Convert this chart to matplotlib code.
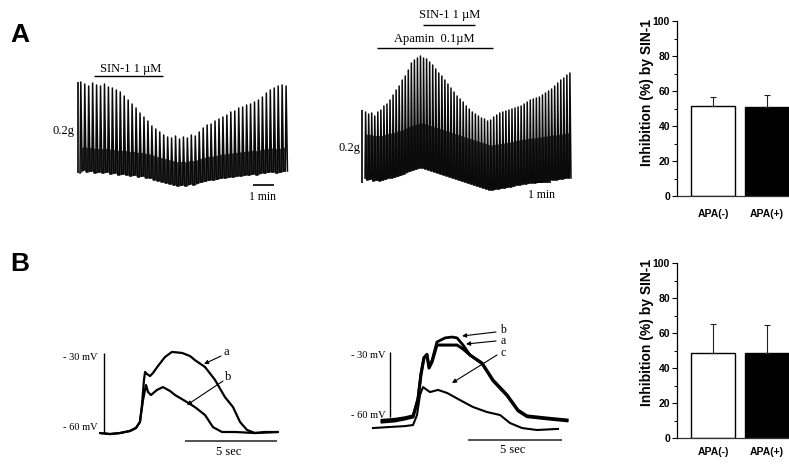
import numpy as np
import matplotlib.pyplot as plt
from matplotlib.ticker import MultipleLocator

W, H = 789, 468

# ---- panel A: isometric tension, one value per contraction (mg) ----
a1_beat_min = 0.188
a1_tops = [236, 232, 228, 234, 230, 228, 232, 226, 224, 220, 216, 208, 200, 192, 184, 174,
           166, 158, 148, 142, 136, 130, 126, 124, 128, 122, 126, 124, 130, 128, 136, 144,
           150, 152, 158, 162, 166, 170, 176, 178, 184, 186, 190, 192, 196, 200, 206, 214,
           220, 224, 228, 230, 228]
a1_bots = [54, 60, 56, 58, 54, 56, 54, 56, 52, 54, 50, 52, 50, 48, 50, 46, 48, 44, 44,
           40, 38, 36, 34, 32, 30, 28, 30, 28, 32, 30, 34, 36, 38, 40, 40, 42, 44,
           44, 46, 46, 48, 48, 50, 50, 52, 50, 54, 54, 56, 56, 54, 56, 58]

a2_beat_min = 0.1694
a2_tops = [176, 172, 174, 168, 176, 180, 188, 192, 200, 210, 220, 228, 240, 248, 260, 274,
           280, 284, 288, 284, 282, 276, 270, 262, 254, 248, 240, 232, 224, 216, 208, 202,
           196, 188, 182, 176, 172, 168, 164, 162, 158, 160, 166, 170, 174, 176, 178, 180,
           182, 184, 186, 188, 192, 196, 200, 202, 204, 206, 210, 214, 218, 222, 228, 234,
           240, 244, 250, 254]
a2_bots = [44, 40, 42, 38, 40, 38, 40, 42, 44, 44, 46, 48, 50, 52, 56, 58,
           60, 62, 64, 64, 62, 60, 58, 56, 54, 52, 50, 48, 46, 44, 42, 40,
           38, 36, 34, 32, 30, 28, 26, 24, 22, 20, 20, 22, 22, 24, 24, 26,
           26, 28, 30, 30, 32, 32, 34, 34, 34, 36, 36, 38, 38, 40, 40, 40,
           42, 42, 44, 44]

# ---- panel B: membrane potential (s, mV) ----
b1_a_t = [0, 0.54, 1.09, 1.63, 1.96, 2.17, 2.28, 2.39, 2.45, 2.55, 2.72, 2.88, 3.15, 3.53,
          3.91, 4.46, 4.89, 5.16, 5.71, 6.25, 6.79, 7.23, 7.61, 7.99, 8.42, 8.97, 9.67]
b1_a_v = [-60.4, -60.8, -60.4, -59.6, -58.4, -56.1, -49.5, -39.7, -36.6, -37.4, -38.2, -37.0,
          -34.3, -30.8, -28.8, -29.2, -30.4, -32.0, -34.7, -39.7, -46.4, -50.3, -56.1, -59.2,
          -60.4, -60.0, -60.0]
b1_b_t = [0, 0.54, 1.09, 1.63, 1.96, 2.17, 2.34, 2.50, 2.61, 2.77, 3.10, 3.42, 3.80, 4.08,
          4.62, 5.16, 5.71, 6.14, 6.63, 7.34, 8.42, 9.67]
b1_b_v = [-60.4, -60.8, -60.4, -59.6, -58.4, -56.1, -47.5, -41.7, -44.4, -45.6, -43.6, -42.5,
          -44.0, -45.6, -47.9, -50.3, -53.4, -58.1, -60.0, -60.0, -60.4, -60.0]

b2_a_t = [0.48, 1.17, 1.70, 2.13, 2.39, 2.55, 2.71, 2.87, 2.98, 3.14, 3.40, 3.83, 4.20, 4.47,
          4.79, 5.16, 5.80, 6.38, 7.13, 7.71, 8.19, 9.26, 10.32]
b2_a_v = [-62.3, -61.8, -60.9, -60.0, -52.2, -40.6, -32.8, -31.4, -37.4, -34.6, -26.8, -26.8,
          -26.8, -26.8, -28.6, -31.4, -35.1, -42.9, -49.8, -56.8, -59.5, -60.5, -61.4]
b2_b_t = [0.48, 1.17, 1.70, 2.13, 2.39, 2.55, 2.71, 2.87, 2.98, 3.14, 3.40, 3.83, 4.20, 4.47,
          4.79, 5.16, 5.80, 6.38, 7.13, 7.71, 8.19, 9.26, 10.32]
b2_b_v = [-61.5, -61.0, -60.3, -59.4, -51.5, -40.0, -32.5, -31.0, -36.8, -34.0, -25.4, -23.5,
          -23.1, -23.5, -26.8, -31.4, -35.4, -43.3, -50.2, -57.2, -59.9, -60.9, -61.8]
b2_c_t = [0, 0.90, 1.70, 2.13, 2.34, 2.50, 2.66, 3.03, 3.46, 3.94, 4.63, 5.32, 6.06, 6.76,
          7.29, 7.93, 8.72, 9.84]
b2_c_v = [-65.1, -64.6, -64.2, -63.7, -59.1, -49.8, -46.2, -48.5, -47.5, -48.9, -52.2, -55.4,
          -57.7, -59.1, -62.8, -65.1, -66.0, -65.5]

# ---- bar charts ----
groups = ["APA(-)", "APA(+)"]
inhib_A = [51.4, 50.8]
inhib_A_err = [5.2, 6.9]
inhib_B = [48.7, 48.4]
inhib_B_err = [16.4, 16.2]

serif = "Liberation Serif"
sans = "Liberation Sans"

fig = plt.figure(figsize=(W / 100, H / 100), dpi=100)
fig.patch.set_facecolor("white")


def px_axes(x0, y0, x1, y1):
    return fig.add_axes([x0 / W, 1 - y1 / H, (x1 - x0) / W, (y1 - y0) / H])


def trace_axes(box, xref, yref):
    # xref/yref: (pixel, value at that pixel, pixels per unit)
    x0, y0, x1, y1 = box
    ax = px_axes(x0, y0, x1, y1)
    px, xv, xs = xref
    ax.set_xlim(xv + (x0 - px) / xs, xv + (x1 - px) / xs)
    py, yv, ys = yref
    ax.set_ylim(yv - (y1 - py) / ys, yv - (y0 - py) / ys)
    ax.axis("off")
    return ax


def draw_beats(ax, period, tops, bots, band):
    n = len(tops)
    t = np.arange(n) * period
    xs, ys = [], []
    for i in range(n):
        nb = bots[i + 1] if i + 1 < n else bots[i]
        xs += [t[i], t[i] + 0.2 * period, t[i] + 0.55 * period]
        ys += [bots[i], tops[i], nb]
    ax.fill_between(t, bots, np.array(bots) + band, color="#0a0a0a", alpha=0.78, lw=0)
    ax.plot(xs, ys, color="#0a0a0a", lw=1.1)


ax_a1 = trace_axes((40, 55, 300, 205), (80, 0, 21), (200, 0, 0.5))
draw_beats(ax_a1, a1_beat_min, a1_tops, a1_bots, 48)

ax_a2 = trace_axes((330, 40, 590, 205), (365, 0, 18), (200, 0, 0.5))
draw_beats(ax_a2, a2_beat_min, a2_tops, a2_bots, 90)

ax_b1 = trace_axes((60, 320, 300, 450), (100, 0, 18.4), (432, -60, 2.567))
ax_b1.plot(b1_a_t, b1_a_v, color="k", lw=1.6, solid_capstyle="round")
ax_b1.plot(b1_b_t, b1_b_v, color="k", lw=1.6, solid_capstyle="round")

ax_b2 = trace_axes((340, 320, 590, 450), (373, 0, 18.8), (417, -60, 2.167))
ax_b2.plot(b2_a_t, b2_a_v, color="k", lw=2.2)
ax_b2.plot(b2_b_t, b2_b_v, color="k", lw=2.0)
ax_b2.plot(b2_c_t, b2_c_v, color="k", lw=1.5)


def bar_panel(y_top, vals, errs):
    ax = px_axes(677, y_top, 789, y_top + 175)
    ax.bar([0, 1], vals, width=0.83, color=["white", "black"], edgecolor="black", lw=1.0)
    ax.errorbar([0, 1], vals, yerr=[[0, 0], errs], fmt="none", ecolor="#222222",
                elinewidth=0.8, capsize=2.5, capthick=0.8)
    ax.set_xlim(-0.667, 1.407)
    ax.set_ylim(0, 100)
    for s in ["top", "right"]:
        ax.spines[s].set_visible(False)
    ax.spines["left"].set_linewidth(0.9)
    ax.spines["bottom"].set_linewidth(0.9)
    ax.spines["bottom"].set_color("#333333")
    ax.set_xticks([])
    ax.set_yticks(range(0, 101, 20))
    ax.yaxis.set_minor_locator(MultipleLocator(10))
    ax.tick_params(axis="y", which="major", length=3.5, width=0.8, pad=1.5, labelsize=7.5)
    ax.tick_params(axis="y", which="minor", length=2, width=0.7)
    for lab in ax.get_yticklabels():
        lab.set_fontfamily(sans)
        lab.set_fontweight("bold")
    ax.patch.set_alpha(0)
    return ax


bar_panel(21, inhib_A, inhib_A_err)
bar_panel(263, inhib_B, inhib_B_err)

# overlay in pixel coordinates for labels, scale bars and arrows
ov = fig.add_axes([0, 0, 1, 1], zorder=5)
ov.set_xlim(0, W)
ov.set_ylim(H, 0)
ov.axis("off")
ov.patch.set_alpha(0)


def line(x0, y0, x1, y1, lw=1.0, color="k"):
    ov.plot([x0, x1], [y0, y1], color=color, lw=lw, solid_capstyle="butt")


def txt(x, y, s, size, family=serif, weight="normal", **kw):
    ov.text(x, y, s, fontsize=size, family=family, weight=weight,
            ha=kw.pop("ha", "center"), va=kw.pop("va", "center"), **kw)


txt(20, 35, "A", 19, family=sans, weight="bold")
txt(20, 264, "B", 19, family=sans, weight="bold")

# A1 annotations
txt(131, 69, "SIN-1 1 µM", 9)
line(94, 76, 163, 76)
line(78, 82, 78, 173, lw=1.2)
txt(64, 131, "0.2g", 9)
line(253, 185, 274, 185, lw=1.2)
txt(263, 197, "1 min", 8.5)

# A2 annotations
txt(450, 15, "SIN-1 1 µM", 9)
line(423, 25, 475, 25)
txt(434, 39, "Apamin  0.1µM", 9)
line(377, 48, 493, 48)
line(362, 110, 362, 183, lw=1.2)
txt(350, 148, "0.2g", 9)
line(533, 182, 551, 182, lw=1.2)
txt(542, 195, "1 min", 8.5)

# B1 annotations
line(104, 353, 104, 433, lw=1.0)
txt(80, 358, "- 30 mV", 7.5)
txt(80, 428, "- 60 mV", 7.5)
line(185, 441, 277, 441, lw=1.2, color="#333333")
txt(229, 452, "5 sec", 9)
txt(226, 352, "a", 9)
txt(228, 377, "b", 9)

# B2 annotations
line(390, 352, 390, 417, lw=1.0)
txt(368, 355, "- 30 mV", 7.5)
txt(368, 415, "- 60 mV", 7.5)
line(468, 440, 562, 440, lw=1.2, color="#333333")
txt(513, 450, "5 sec", 9)
txt(503, 330, "b", 8.5)
txt(503, 341, "a", 8.5)
txt(503, 353, "c", 8.5)

arrows = [((221, 356), (204, 364)), ((223, 381), (187, 405)),
          ((496, 332), (462, 336)), ((496, 341), (466, 344)), ((497, 355), (452, 383))]
for tail, tip in arrows:
    ov.annotate("", xy=tip, xytext=tail,
                arrowprops=dict(arrowstyle="-|>", lw=0.8, color="k", mutation_scale=6,
                                shrinkA=0, shrinkB=0))

# bar chart labels
for y_lab, y_mid in [(214, 93), (452, 333)]:
    txt(713, y_lab, groups[0], 7.5, family=sans, weight="bold")
    txt(767, y_lab, groups[1], 7.5, family=sans, weight="bold")
    txt(647, y_mid, "Inhibition (%) by SIN-1", 10, family=sans, weight="bold", rotation=90)

fig.savefig("out.png", dpi=100, facecolor="white")
